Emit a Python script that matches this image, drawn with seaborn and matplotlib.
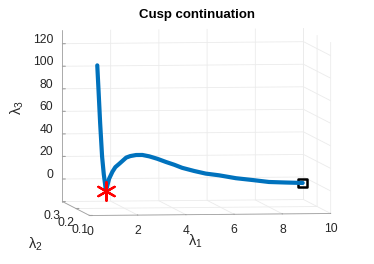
import numpy as np
import seaborn as sns
import matplotlib
matplotlib.use("Agg")
import matplotlib.pyplot as plt
from matplotlib.transforms import ScaledTranslation

# continuation branch (lambda1, lambda2, lambda3)
lam1 = [0.32, 0.37, 0.44, 0.52, 0.59, 0.68,
        0.81, 0.95, 1.07, 1.24, 1.52, 1.69, 1.93, 2.19, 2.48, 2.81,
        3.17, 3.51, 3.84, 4.34, 4.82, 5.37, 6.07, 6.78, 7.44, 8.14, 8.84]
lam2 = [0.10] * len(lam1)
lam3 = [113.1, 92.0, 61.6, 32.2, 16.5, 1.7,
        12.4, 18.7, 22.7, 25.8, 31.1, 32.4, 33.3, 33.3, 32.0, 29.8,
        26.9, 24.4, 21.6, 18.7, 16.3, 14.7, 12.0, 10.2, 8.4, 7.8, 7.3]

cusp_pt = (0.68, 0.10, 1.7)
end_pt = (8.84, 0.10, 7.3)

x_ticks = [0, 2, 4, 6, 8, 10]
y_ticks = [0.1, 0.2, 0.3]
z_ticks = [0, 20, 40, 60, 80, 100, 120]

sns.set_style("white")
plt.rcParams['font.family'] = ['Liberation Sans', 'DejaVu Sans']
plt.rcParams['mathtext.default'] = 'regular'

blue = sns.color_palette(["#0072BD"])[0]
txt = "#262626"

fig = plt.figure(figsize=(3.74, 2.64), dpi=100)
ax = fig.add_axes([0.016, 0.025, 1, 1], projection='3d', proj_type='ortho')
ax.set_box_aspect((242, 214, 171), zoom=1.35)
ax.view_init(elev=3.75, azim=-97.25)

ax.plot(lam1, lam2, lam3, color=blue, lw=3, solid_capstyle='round',
        solid_joinstyle='round')
ax.scatter(*[[v] for v in cusp_pt], marker=(6, 2, 0), s=180, color='red',
           linewidths=1.6, depthshade=False)
ax.scatter(*[[v] for v in end_pt], marker='s', s=40, facecolors='none',
           edgecolors='black', linewidths=1.8, depthshade=False)

ax.set_xlim(0, 10)
ax.set_ylim(0.1, 0.3)
ax.set_zlim(-20, 132)
ax.set_xticks(x_ticks)
ax.set_yticks(y_ticks)
ax.set_zticks(z_ticks)

for axis in (ax.xaxis, ax.yaxis, ax.zaxis):
    axis.set_pane_color((1, 1, 1, 0))
    axis._axinfo['grid']['color'] = '#ebebeb'
    axis._axinfo['grid']['linewidth'] = 0.6
    axis._axinfo['tick']['inward_factor'] = 0.0
    axis._axinfo['tick']['outward_factor'] = 0.15
    axis.line.set_color('#a0a0a0')
    axis.line.set_linewidth(0.6)
    axis.set_tick_params(label1On=False, label2On=False, color='#a0a0a0')


def shifted(dx, dy):
    # pixel offset on top of the 3d projection
    return ax.transData + ScaledTranslation(dx / 100, dy / 100, fig.dpi_scale_trans)


x0, x1 = ax.get_xlim()
y0, y1 = ax.get_ylim()
z0, z1 = ax.get_zlim()
for t in x_ticks:
    ax.text(t, y0, z0, str(t), fontsize=8.7, color=txt, ha='center',
            va='center', transform=shifted(0, -16))
for t in y_ticks:
    ax.text(x0, t, z0, str(t), fontsize=8.7, color=txt, ha='center',
            va='center', transform=shifted(-10, -14))
for t in z_ticks:
    ax.text(x0, y1, t, str(t), fontsize=8.7, color=txt, ha='right',
            va='center', transform=shifted(-9, 4))

# axis labels placed as figure text
fig.text(195 / 374, 1 - 241 / 264, r'$\lambda_1$', fontsize=10.5, color=txt,
         ha='center', va='center')
fig.text(35 / 374, 1 - 244 / 264, r'$\lambda_2$', fontsize=10.5, color=txt,
         ha='center', va='center')
fig.text(17 / 374, 1 - 108 / 264, r'$\lambda_3$', fontsize=10.5, color=txt,
         ha='center', va='center', rotation=90)
fig.text(197 / 374, 1 - 15 / 264, 'Cusp continuation', fontsize=9.5,
         fontweight='bold', color='black', ha='center', va='center')

fig.savefig('out.png', dpi=100)
